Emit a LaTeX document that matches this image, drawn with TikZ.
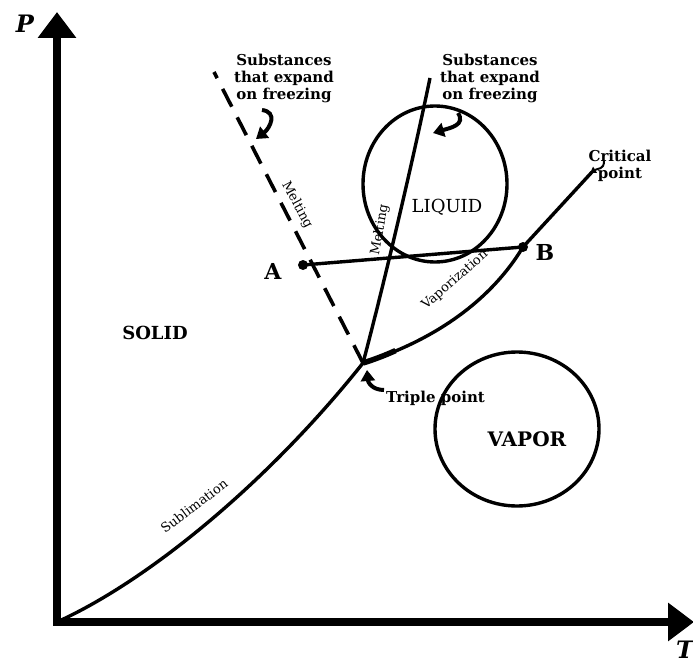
\documentclass[tikz,border=0pt]{standalone}
\usepackage{fontspec}
\setmainfont{DejaVu Serif}
\usetikzlibrary{arrows.meta}

\begin{document}
\begin{tikzpicture}[x=1pt, y=-1pt,
    axis/.style={line width=8pt, -{Triangle[width=37pt,length=26pt]}},
    curve/.style={line width=3.4pt},
    hookarrow/.style={line width=4pt, -{Triangle[width=14pt,length=11pt]}},
    phase/.style={font=\fontsize{18}{20}\selectfont\bfseries},
    note/.style={font=\fontsize{15}{17}\selectfont\bfseries, align=center, inner sep=0pt},
    letter/.style={font=\fontsize{22}{22}\selectfont\bfseries},
    linelabel/.style={font=\fontsize{13}{15}\selectfont, inner sep=1pt},
    dot/.style={circle, fill, inner sep=0pt, minimum size=10pt}]
  \useasboundingbox (0,0) rectangle (693,663);
  % key points of the diagram
  \coordinate (O) at (57,622);
  \coordinate (Ptop) at (57,12);
  \coordinate (Tend) at (694,622);
  \coordinate (TP) at (363,363);
  \coordinate (CP) at (592,172);
  \coordinate (DT) at (214,72);
  \coordinate (MT) at (430,78);
  \node[dot] (A) at (303,265) {};
  \node[dot] (B) at (523,247) {};

  % axes
  \draw[axis] ([yshift=4pt]O) -- (Ptop);
  \draw[axis] ([xshift=-4pt]O) -- (Tend);
  \node[font=\fontsize{24}{24}\selectfont\bfseries\itshape] (P) at (25,24) {P};
  \node[font=\fontsize{24}{24}\selectfont\bfseries\itshape] (T) at (685,650) {T};

  % phase boundaries
  \draw[curve] (O) .. controls (150,580) and (270,480) .. (TP);
  \draw[curve] (TP) .. controls (420,345) and (485,310) .. (B.center) -- (CP);
  \draw[line width=5.5pt] (TP) .. controls (374.4,359.4) and (385.2,355.3) .. (395.5,350.6);
  \draw[curve] (TP) .. controls (385,280) and (413,160) .. (MT);
  \draw[line width=3.6pt, dash pattern=on 20pt off 12pt] (TP) -- (DT);
  \draw[curve] (A.center) -- (B.center);

  % regions
  \draw[curve] (435,184) ellipse [x radius=72, y radius=78];
  \draw[curve] (517,429) ellipse [x radius=82, y radius=77];
  \node[phase] (solid) at (155,333) {SOLID};
  \node[font=\fontsize{18}{20}\selectfont] (liquid) at (447,207) {LIQUID};
  \node[phase, font=\fontsize{20}{22}\selectfont\bfseries] (vapor) at (527,439) {VAPOR};

  % labels along the curves
  \node[linelabel, rotate=37] (subl) at (194,506) {Sublimation};
  \node[linelabel, rotate=41] (vap) at (455,280) {Vaporization};
  \node[linelabel, rotate=-62] (meltd) at (297,205) {Melting};
  \node[linelabel, rotate=80] (melts) at (380,230) {Melting};

  \node[letter] (Alabel) at (273,271) {A};
  \node[letter] (Blabel) at (545,252) {B};

  % notes and their hook arrows
  \node[note] (lsubs) at (284,78) {Substances\\that expand\\on freezing};
  \node[note] (rsubs) at (490,78) {Substances\\that expand\\on freezing};
  \node[note, anchor=west] (triple) at (386,398) {Triple point};
  \node[note] (critical) at (620,166) {Critical\\point};

  \coordinate (lhs) at (262,110);
  \coordinate (lhe) at (256,139);
  \coordinate (rhs) at (458,113);
  \coordinate (rhe) at (433,133);
  \coordinate (ths) at (384,390);
  \coordinate (the) at (367,370);
  \coordinate (chs) at (604,161);
  \coordinate (che) at (590,173);
  \draw[hookarrow] (lhs) .. controls (278,112) and (270,128) .. (lhe);
  \draw[hookarrow] (rhs) .. controls (466,125) and (450,128) .. (rhe);
  \draw[hookarrow] (ths) .. controls (372,390) and (368,382) .. (the);
  \draw[line width=2pt, -{Triangle[width=7pt,length=6pt]}] (chs) .. controls (604,170) and (598,168) .. (che);
\end{tikzpicture}
\end{document}
